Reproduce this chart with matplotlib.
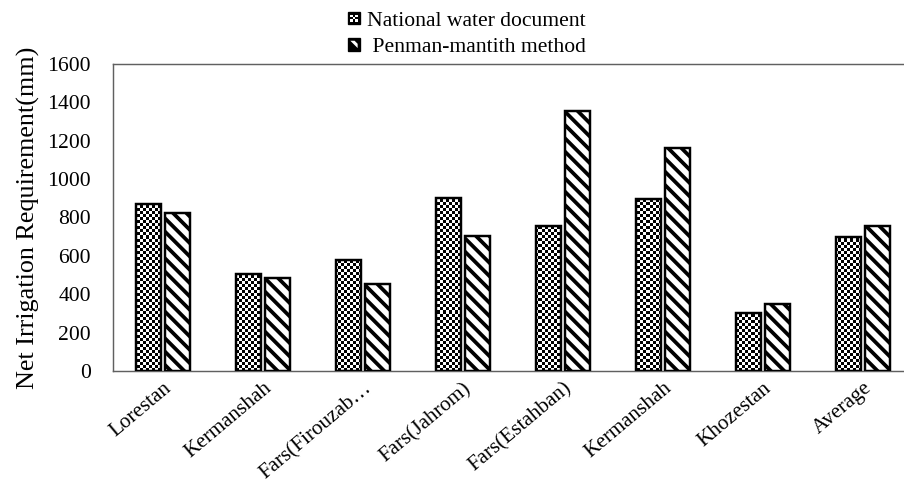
import numpy as np
import matplotlib
matplotlib.use("Agg")
import matplotlib.pyplot as plt
from matplotlib.patches import Rectangle, Polygon
from matplotlib.legend_handler import HandlerBase

categories = ["Lorestan", "Kermanshah", "Fars(Firouzab\u2026", "Fars(Jahrom)",
              "Fars(Estahban)", "Kermanshah", "Khozestan", "Average"]
national = [870, 505, 578, 902, 756, 896, 302, 698]
penman = [823, 485, 453, 704, 1355, 1162, 349, 756]
yticks = [0, 200, 400, 600, 800, 1000, 1200, 1400, 1600]

plt.rcParams["font.family"] = ["Liberation Serif", "DejaVu Serif"]
plt.rcParams["hatch.linewidth"] = 3.4
plt.rcParams["hatch.color"] = "black"

DPI = 80
fig = plt.figure(figsize=(904 / DPI, 482 / DPI), dpi=DPI)
ax = fig.add_axes([113 / 904, 111 / 482, 800 / 904, 307 / 482])

x = np.arange(len(categories))
w = 0.245
off = 0.147
xlim = (-0.5, len(categories) - 0.5)

bars_n = ax.bar(x - off, national, width=w, facecolor="none",
                edgecolor="black", linewidth=2.2, zorder=3)
bars_p = ax.bar(x + off, penman, width=w, facecolor="white", hatch="\\\\",
                edgecolor="black", linewidth=2.2, zorder=3)

# checkerboard fill for the first series, clipped to each bar
cols, rows = 267, 102
ii, jj = np.indices((rows, cols))
checker = ((ii + jj) % 2).astype(float)
for b in bars_n:
    im = ax.imshow(checker, cmap="gray", vmin=0, vmax=1, aspect="auto",
                   extent=(xlim[0], xlim[1], 0, 1600),
                   interpolation="nearest", zorder=2)
    im.set_clip_path(b)
ax.set_aspect("auto")
ax.set_xlim(*xlim)
ax.set_ylim(0, 1600)

for s in ax.spines.values():
    s.set_color("#606060")
    s.set_linewidth(1.3)

ax.set_yticks(yticks)
ax.set_yticklabels([str(v) for v in yticks], fontsize=19.5)
ax.tick_params(axis="y", length=0, pad=20)
ax.set_xticks(x)
ax.set_xticklabels(categories, rotation=40, ha="right",
                   rotation_mode="anchor", fontsize=19)
ax.tick_params(axis="x", length=0, pad=7)
ax.set_ylabel("Net Irrigation Requirement(mm)", fontsize=23.5, labelpad=6)


class CheckerHandler(HandlerBase):
    def create_artists(self, legend, orig_handle, xdescent, ydescent,
                       width, height, fontsize, trans):
        s = 11
        x0 = xdescent + width - s
        y0 = -ydescent + (height - s) / 2
        arts = [Rectangle((x0, y0), s, s, facecolor="black",
                          edgecolor="black", lw=1.2, transform=trans)]
        c = s / 5.0
        for (a, b2) in [(1, 1), (3, 3), (1, 3), (3, 1), (2, 2)]:
            arts.append(Rectangle((x0 + a * c, y0 + b2 * c), c, c,
                                  facecolor="white", edgecolor="none",
                                  transform=trans))
        return arts


class StripeHandler(HandlerBase):
    def create_artists(self, legend, orig_handle, xdescent, ydescent,
                       width, height, fontsize, trans):
        s = 11
        x0 = xdescent + width - s
        y0 = -ydescent + (height - s) / 2
        r = Rectangle((x0, y0), s, s, facecolor="black",
                      edgecolor="black", lw=1.2, transform=trans)
        tri = Polygon(
            [(x0 + s * 0.2, y0 + s * 0.8), (x0 + s * 0.8, y0 + s * 0.2),
             (x0 + s * 0.8, y0 + s * 0.55), (x0 + s * 0.55, y0 + s * 0.8)],
            closed=True, facecolor="white", edgecolor="none", transform=trans)
        return [r, tri]


h1 = Rectangle((0, 0), 1, 1)
h2 = Rectangle((0, 0), 1, 1)
fig.legend([h1, h2], ["National water document", " Penman-mantith method"],
           handler_map={h1: CheckerHandler(), h2: StripeHandler()},
           loc="upper center", bbox_to_anchor=(0.514, 0.978), frameon=False,
           fontsize=19.5, handlelength=0.75, handletextpad=0.3,
           labelspacing=0.28, borderaxespad=0, borderpad=0)

fig.savefig("out.png", dpi=DPI)
